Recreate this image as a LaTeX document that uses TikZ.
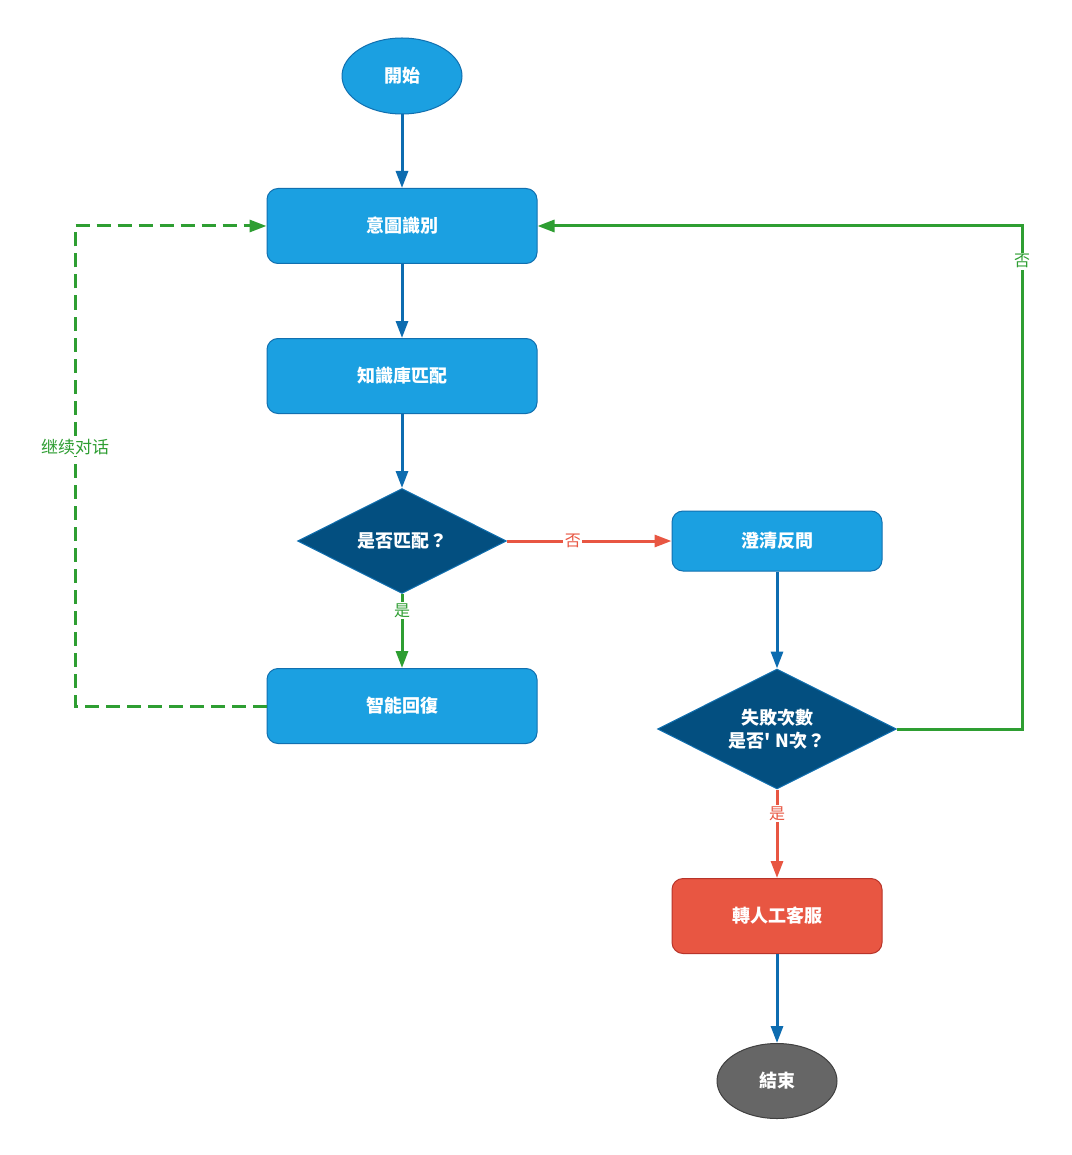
\documentclass[tikz,border=0pt]{standalone}
\usepackage{fontspec}
\setmainfont{Noto Sans CJK TC}
\newfontfamily\cjk{Noto Sans CJK TC}
\usetikzlibrary{shapes.geometric,arrows.meta}
\definecolor{boxblue}{HTML}{1BA0E1}
\definecolor{boxline}{HTML}{1170B0}
\definecolor{darkblue}{HTML}{034F80}
\definecolor{arrowblue}{HTML}{0D6CB0}
\definecolor{flowgreen}{HTML}{2E9E32}
\definecolor{flowred}{HTML}{E85642}
\definecolor{redline}{HTML}{B8342A}
\definecolor{endgray}{HTML}{666666}
\tikzset{
  base/.style={font=\cjk\bfseries\fontsize{18}{23}\selectfont, text=white, align=center, inner sep=0pt},
  procbox/.style={base, rectangle, rounded corners=11pt, draw=boxline, fill=boxblue, line width=1pt, minimum width=270pt, minimum height=75pt},
  smallbox/.style={procbox, minimum width=210pt, minimum height=60pt},
  redbox/.style={procbox, minimum width=210pt, fill=flowred, draw=redline},
  terminal/.style={base, ellipse, draw=boxline, fill=boxblue, line width=1pt, minimum width=120pt, minimum height=76pt},
  decision/.style={base, diamond, aspect=2, draw=boxline, fill=darkblue, line width=1pt, inner sep=0pt},
  flow/.style={line width=3pt, -{Triangle[length=17pt,width=12pt]}},
  lbl/.style={font=\cjk\fontsize{16}{18}\selectfont, fill=white, inner sep=1.5pt}
}
\begin{document}
\begin{tikzpicture}[x=1pt,y=-1pt]
\useasboundingbox (0,0) rectangle (1071,1155);
\fill[white] (0,0) rectangle (1071,1155);

\node[terminal] (start) at (402,76) {開始};
\node[procbox] (intent) at (402,226) {意圖識別};
\node[procbox] (kb) at (402,376) {知識庫匹配};
\node[decision, minimum width=209pt, minimum height=105pt] (match) at (402,541) {是否匹配？};
\node[procbox] (reply) at (402,706) {智能回復};
\node[smallbox] (clarify) at (777,541) {澄清反問};
\node[decision, minimum width=239pt, minimum height=120pt] (fail) at (777,729) {失敗次數\\是否' N次？};
\node[redbox] (human) at (777,916) {轉人工客服};
\node[terminal, fill=endgray, draw=black!75, minimum height=75pt] (end) at (777,1081) {結束};

\coordinate (rtop) at (1022,226);
\coordinate (rbot) at (1022,729);
\coordinate (ltop) at (75,226);
\coordinate (lbot) at (75,706);

\draw[flow, arrowblue] (start) -- (intent);
\draw[flow, arrowblue] (intent) -- (kb);
\draw[flow, arrowblue] (kb) -- (match);
\draw[flow, flowgreen] (match) -- node[lbl, text=flowgreen, pos=0.22] {是} (reply);
\draw[flow, flowred] (match) -- node[lbl, text=flowred, pos=0.4] {否} (clarify);
\draw[flow, arrowblue] (clarify) -- (fail);
\draw[flow, flowred] (fail) -- node[lbl, text=flowred, pos=0.27] {是} (human);
\draw[flow, arrowblue] (human) -- (end);
\draw[flow, flowgreen] (fail.east) -- (rbot) -- node[lbl, text=flowgreen, pos=0.93] {否} (rtop) -- (intent.east);
\draw[flow, flowgreen, dash pattern=on 14pt off 7pt] (reply.west) -- (lbot) -- node[lbl, text=flowgreen, font=\cjk\fontsize{17}{19}\selectfont, pos=0.54] {继续对话} (ltop) -- (intent.west);
\end{tikzpicture}
\end{document}
